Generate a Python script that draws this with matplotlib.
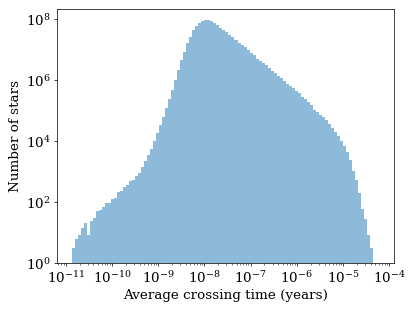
import numpy as np
import matplotlib
matplotlib.use("Agg")
import matplotlib.pyplot as plt
import matplotlib.ticker as ticker

plt.rcParams["font.family"] = "serif"
plt.rcParams["font.serif"] = ["DejaVu Serif"]
plt.rcParams["mathtext.fontset"] = "dejavuserif"

# histogram range (log10 of years) and star counts per bin
log_tmin = -10.864
log_tmax = -4.352
counts = [
    3, 6, 8, 14, 21, 8, 23, 31, 52, 55,
    70, 91, 95, 123, 135, 213, 230, 303, 369, 477,
    527, 712, 914, 1374, 2160, 3400, 5600, 10230, 18700, 34200,
    62600, 118000, 238000, 470000, 1.0e6, 2.13e6, 4.53e6, 8.47e6, 1.60e7, 2.63e7,
    4.36e7, 6.03e7, 7.57e7, 8.41e7, 8.93e7, 8.93e7, 8.28e7, 7.39e7, 6.21e7, 5.07e7,
    4.36e7, 3.66e7, 2.99e7, 2.51e7, 2.05e7, 1.67e7, 1.41e7, 1.15e7, 9.6e6, 7.85e6,
    6.6e6, 4.99e6, 4.30e6, 3.69e6, 3.03e6, 2.42e6, 2.02e6, 1.66e6, 1.35e6, 1.14e6,
    9.27e5, 7.39e5, 6.35e5, 5.47e5, 4.46e5, 3.66e5, 2.83e5, 2.33e5, 1.86e5, 1.51e5,
    1.04e5, 8.93e4, 7.12e4, 5.98e4, 4.70e4, 3.53e4, 2.61e4, 2.02e4, 1.46e4, 1.02e4,
    6860, 4360, 2380, 1040, 527, 193, 60, 28, 8, 3,
]
yticks = [1, 1e2, 1e4, 1e6, 1e8]

bins = np.logspace(log_tmin, log_tmax, len(counts) + 1)
centers = np.sqrt(bins[:-1] * bins[1:])

fig = plt.figure(figsize=(6.4, 4.8), dpi=64.85)
ax = fig.add_subplot(111)
ax.hist(centers, bins=bins, weights=counts, color="C0", alpha=0.5)
ax.set_xscale("log")
ax.set_yscale("log")
ax.set_xlim(10 ** -11.19, 10 ** -3.90)
ax.set_ylim(1, 10 ** 8.33)
ax.set_yticks(yticks)
ax.yaxis.set_minor_locator(ticker.NullLocator())
ax.xaxis.set_major_locator(ticker.LogLocator(base=10, numticks=20))
ax.set_xlabel("Average crossing time (years)", fontsize=15)
ax.set_ylabel("Number of stars", fontsize=15)
ax.tick_params(labelsize=15)
fig.subplots_adjust(left=0.137, right=0.949, top=0.971, bottom=0.154)
fig.savefig("out.png", dpi=64.85)
